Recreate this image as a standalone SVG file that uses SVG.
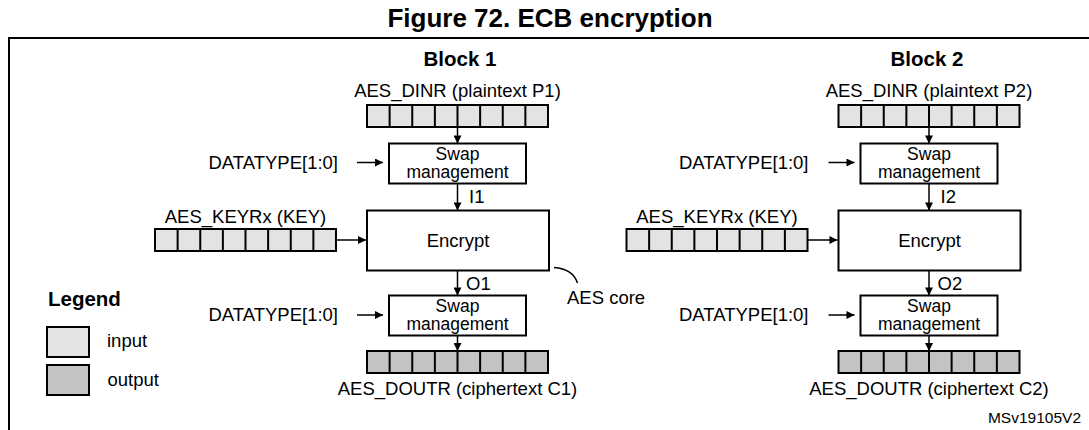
<svg xmlns="http://www.w3.org/2000/svg" width="1089" height="430" viewBox="0 0 1089 430">
<defs>
<style>
text{font-family:"Liberation Sans",Arial,sans-serif;fill:#000}
.t{font-size:18.5px}
.w{font-size:17.5px}
.b{font-weight:bold;font-size:20.5px}
.ttl{font-weight:bold;font-size:26px}
.s{font-size:15.5px}
.c{text-anchor:middle}
.e{text-anchor:end}
.box{fill:#fff;stroke:#000;stroke-width:2}
.in{fill:#e3e3e3;stroke:#000;stroke-width:2}
.out{fill:#c3c3c3;stroke:#000;stroke-width:2}
.cell{stroke:#000;stroke-width:2;fill:none}
.ln{stroke:#000;stroke-width:1.5;fill:none}
.ar{stroke:#000;stroke-width:1.5;fill:none;marker-end:url(#ah)}
</style>
<marker id="ah" viewBox="0 0 10 10" refX="10" refY="5" markerWidth="9" markerHeight="8" orient="auto" markerUnits="userSpaceOnUse">
<path d="M0,0 L10,5 L0,10 z" fill="#000"/>
</marker>
<g id="cells8">
<path class="cell" d="M22.625,0V22M45.25,0V22M67.875,0V22M90.5,0V22M113.125,0V22M135.75,0V22M158.375,0V22"/>
</g>
</defs>
<rect width="1089" height="430" fill="#fff"/>
<text class="ttl c" x="550" y="27">Figure 72. ECB encryption</text>
<path id="frame" d="M9,432V38H1092" stroke="#000" stroke-width="2" fill="none"/>

<g id="block1">
<text class="b c" x="460" y="66">Block 1</text>
<g id="dinr1">
<text class="t c" x="457.5" y="97">AES_DINR (plaintext P1)</text>
<rect class="in" x="367" y="105" width="181" height="22"/>
<use href="#cells8" x="367" y="105"/>
</g>
<g id="swapin1">
<rect class="box" x="389" y="143.5" width="137" height="40"/>
<text class="w c" x="457.5" y="159.5">Swap</text>
<text class="w c" x="457.5" y="178">management</text>
</g>
<g id="dt1a"><text class="t e" x="338" y="168.5">DATATYPE[1:0]</text></g>
<g id="encrypt1">
<rect class="box" x="367" y="210.5" width="182" height="60"/>
<text class="t c" x="458" y="247">Encrypt</text>
</g>
<g id="key1">
<text class="t c" x="245.5" y="223">AES_KEYRx (KEY)</text>
<rect class="in" x="155" y="229" width="181" height="22"/>
<use href="#cells8" x="155" y="229"/>
</g>
<g id="swapout1">
<rect class="box" x="389" y="295.5" width="137" height="40"/>
<text class="w c" x="457.5" y="311.5">Swap</text>
<text class="w c" x="457.5" y="330">management</text>
</g>
<g id="dt1b"><text class="t e" x="338" y="320.5">DATATYPE[1:0]</text></g>
<g id="doutr1">
<rect class="out" x="367" y="351" width="181" height="22"/>
<use href="#cells8" x="367" y="351"/>
<text class="t c" x="457.5" y="395">AES_DOUTR (ciphertext C1)</text>
</g>
<g id="aescore">
<text class="t" x="567" y="304">AES core</text>
</g>
</g>

<g id="block2">
<text class="b c" x="927" y="66">Block 2</text>
<g id="dinr2">
<text class="t c" x="929" y="97">AES_DINR (plaintext P2)</text>
<rect class="in" x="838.5" y="105" width="181" height="22"/>
<use href="#cells8" x="838.5" y="105"/>
</g>
<g id="swapin2">
<rect class="box" x="860.5" y="143.5" width="137" height="40"/>
<text class="w c" x="929" y="159.5">Swap</text>
<text class="w c" x="929" y="178">management</text>
</g>
<g id="dt2a"><text class="t e" x="808.5" y="168.5">DATATYPE[1:0]</text></g>
<g id="encrypt2">
<rect class="box" x="838.5" y="210.5" width="182" height="60"/>
<text class="t c" x="929.5" y="247">Encrypt</text>
</g>
<g id="key2">
<text class="t c" x="717" y="223">AES_KEYRx (KEY)</text>
<rect class="in" x="626.5" y="229" width="181" height="22"/>
<use href="#cells8" x="626.5" y="229"/>
</g>
<g id="swapout2">
<rect class="box" x="860.5" y="295.5" width="137" height="40"/>
<text class="w c" x="929" y="311.5">Swap</text>
<text class="w c" x="929" y="330">management</text>
</g>
<g id="dt2b"><text class="t e" x="808.5" y="320.5">DATATYPE[1:0]</text></g>
<g id="doutr2">
<rect class="out" x="838.5" y="351" width="181" height="22"/>
<use href="#cells8" x="838.5" y="351"/>
<text class="t c" x="929" y="395">AES_DOUTR (ciphertext C2)</text>
</g>
</g>

<g id="legend">
<text class="b" x="48" y="306">Legend</text>
<rect class="in" x="47" y="327" width="42" height="30"/>
<text class="t" x="107" y="347">input</text>
<rect class="out" x="47" y="365" width="42" height="30"/>
<text class="t" x="107.5" y="386">output</text>
</g>

<g id="connectors">
<line class="ar" x1="457.5" y1="127" x2="457.5" y2="143.5"/>
<line class="ar" x1="357" y1="162.5" x2="383" y2="162.5"/>
<line class="ar" x1="457.5" y1="183.5" x2="457.5" y2="210.5"/>
<text class="t" x="469" y="203">I1</text>
<line class="ar" x1="336" y1="240" x2="366" y2="240"/>
<line class="ar" x1="457.5" y1="270.5" x2="457.5" y2="295.5"/>
<text class="t" x="466" y="290">O1</text>
<line class="ar" x1="357" y1="315" x2="383" y2="315"/>
<line class="ar" x1="457.5" y1="335.5" x2="457.5" y2="351"/>
<path class="ln" d="M554,267.5 Q573,269 577.5,283"/>

<line class="ar" x1="929" y1="127" x2="929" y2="143.5"/>
<line class="ar" x1="828.5" y1="162.5" x2="854.5" y2="162.5"/>
<line class="ar" x1="929" y1="183.5" x2="929" y2="210.5"/>
<text class="t" x="940.5" y="203">I2</text>
<line class="ar" x1="807.5" y1="240" x2="837.5" y2="240"/>
<line class="ar" x1="929" y1="270.5" x2="929" y2="295.5"/>
<text class="t" x="937.5" y="290">O2</text>
<line class="ar" x1="828.5" y1="315" x2="854.5" y2="315"/>
<line class="ar" x1="929" y1="335.5" x2="929" y2="351"/>
</g>

<text class="s e" x="1081" y="423">MSv19105V2</text>
</svg>
